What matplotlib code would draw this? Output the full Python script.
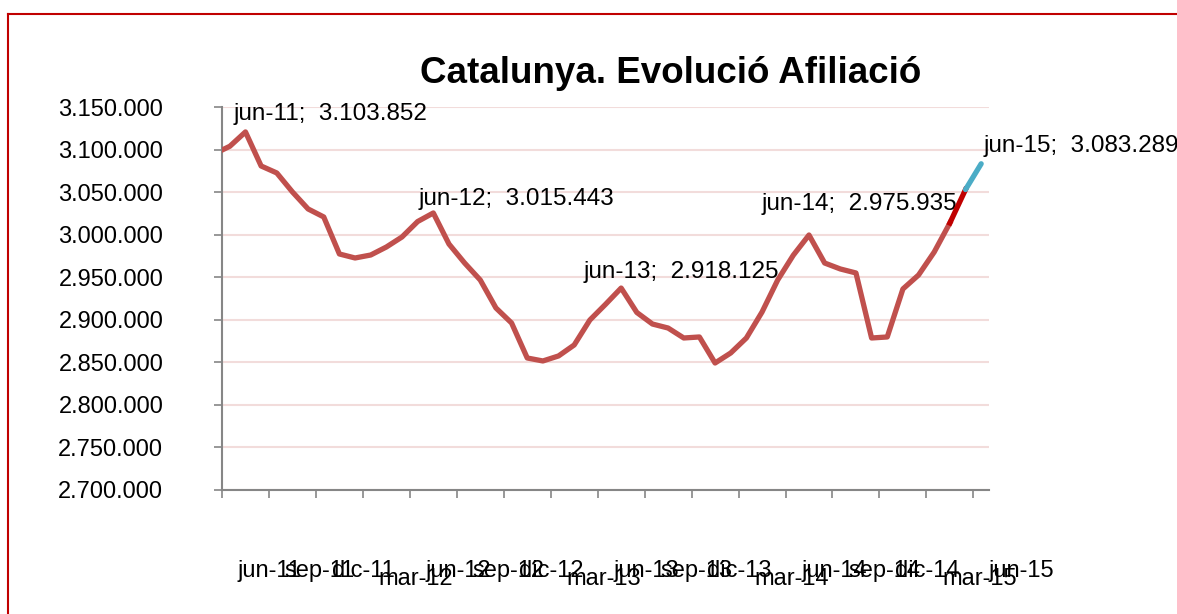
import numpy as np
import matplotlib
matplotlib.use('Agg')
import matplotlib.pyplot as plt
from matplotlib.lines import Line2D
from matplotlib.ticker import FuncFormatter

plt.rcParams['font.family'] = ['Liberation Sans', 'DejaVu Sans']

#=================================================
#DATA
#=================================================
months = ['may-11', 'jun-11', 'jul-11', 'ago-11', 'sep-11', 'oct-11', 'nov-11', 'dic-11',
          'ene-12', 'feb-12', 'mar-12', 'abr-12', 'may-12', 'jun-12', 'jul-12', 'ago-12',
          'sep-12', 'oct-12', 'nov-12', 'dic-12', 'ene-13', 'feb-13', 'mar-13', 'abr-13',
          'may-13', 'jun-13', 'jul-13', 'ago-13', 'sep-13', 'oct-13', 'nov-13', 'dic-13',
          'ene-14', 'feb-14', 'mar-14', 'abr-14', 'may-14', 'jun-14', 'jul-14', 'ago-14',
          'sep-14', 'oct-14', 'nov-14', 'dic-14', 'ene-15', 'feb-15', 'mar-15', 'abr-15',
          'may-15', 'jun-15']

afiliats = [3095000, 3103852, 3120700, 3080700, 3072500, 3050200, 3030200, 3020800,
            2977300, 2972600, 2976100, 2985500, 2997300, 3015443, 3025500, 2989000,
            2966700, 2946700, 2913900, 2896200, 2855100, 2851600, 2857500, 2870400,
            2899700, 2918125, 2937300, 2908600, 2895000, 2890300, 2878600, 2879800,
            2849200, 2861000, 2878600, 2909100, 2946700, 2975935, 2999600, 2966700,
            2959700, 2955000, 2878600, 2879800, 2936200, 2952600, 2979600, 3013700,
            3053000, 3083289]

title = 'Catalunya. Evolució Afiliació'
y_min, y_max, y_step = 2700000, 3150000, 50000

#label offsets (pixels) for the june data labels
label_offsets = [(4, 26), (1, 17), (-22, 26), (-32, 45), (2, 12)]

def fmt_num(v, pos=None):
    return '{:,}'.format(int(round(v))).replace(',', '.')

#=================================================
#PLOT
#=================================================
W, H = 1177, 614
fig = plt.figure(figsize=(W / 100, H / 100), dpi=100)
ax = fig.add_axes([222 / W, 1 - 490 / H, (989 - 222) / W, (490 - 107) / H])

x = np.arange(len(months))
y = np.array(afiliats)

ax.plot(x[:-2], y[:-2], color='#C0504D', lw=3.8, zorder=3)
ax.plot(x[-3:-1], y[-3:-1], color='#C00000', lw=3.8, zorder=4)
ax.plot(x[-2:], y[-2:], color='#4BACC6', lw=3.8, solid_capstyle='round', zorder=4)

ax.set_xlim(0.5, len(months) - 0.5)
ax.set_ylim(y_min, y_max)

ax.set_yticks(np.arange(y_min, y_max + 1, y_step))
ax.yaxis.set_major_formatter(FuncFormatter(fmt_num))
ax.set_xticks(np.arange(0.5, len(months) - 1, 3))
ax.set_xticklabels([])

ax.yaxis.grid(True, color='#F2DCDB', lw=1.5)
ax.set_axisbelow(True)

for s in ['top', 'right']:
    ax.spines[s].set_visible(False)
for s in ['left', 'bottom']:
    ax.spines[s].set_color('#868686')
    ax.spines[s].set_linewidth(1.5)

ax.tick_params(axis='y', length=5.8, width=1.2, color='#868686', pad=36.5,
               labelsize=17, labelcolor='black')
ax.tick_params(axis='x', length=5.8, width=1.2, color='#868686')

#category labels, every 3 months
tick_months = months[1::3]
for k, lab in enumerate(tick_months):
    row = -0.248 if lab.startswith('mar') else -0.227
    ax.text(1.5 + 3 * k, row, lab, transform=ax.get_xaxis_transform(),
            ha='left', va='baseline', fontsize=17, clip_on=False)

#june data labels
jun_idx = [i for i, m in enumerate(months) if m.startswith('jun')]
for i, (dx, dy) in zip(jun_idx, label_offsets):
    ax.annotate('%s;  %s' % (months[i], fmt_num(afiliats[i])), (x[i], y[i]),
                xytext=(dx, dy), textcoords='offset pixels',
                ha='left', va='baseline', fontsize=17.5, annotation_clip=False)

fig.text(671 / W, 1 - 83 / H, title, ha='center', va='baseline',
         fontsize=26.5, fontweight='bold')

#outer chart border
fig.add_artist(Line2D([8 / W, 8 / W], [0, 1 - 14 / H], transform=fig.transFigure,
                      color='#C00000', lw=1.5))
fig.add_artist(Line2D([8 / W, 1], [1 - 14 / H, 1 - 14 / H], transform=fig.transFigure,
                      color='#C00000', lw=1.5))

plt.savefig('out.png', dpi=100)
